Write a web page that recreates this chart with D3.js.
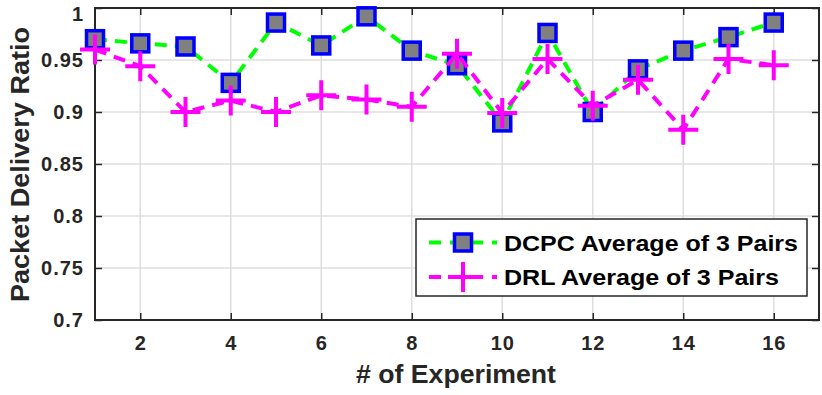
<!DOCTYPE html>
<html>
<head>
<meta charset="utf-8">
<script src="https://cdn.jsdelivr.net/npm/d3@7"></script>
<style>
  body { margin: 0; background: #fff; }
  svg { display: block; font-family: "Liberation Sans", Arial, sans-serif; }
</style>
</head>
<body>
<div id="chart"></div>
<script>
// data
const experiments = d3.range(1, 17);
const dcpc = [0.970, 0.966, 0.963, 0.928, 0.986, 0.964, 0.992, 0.959, 0.945, 0.890, 0.976, 0.900, 0.941, 0.959, 0.972, 0.986];
const drl = [0.960, 0.944, 0.900, 0.911, 0.900, 0.916, 0.912, 0.905, 0.956, 0.899, 0.951, 0.906, 0.931, 0.883, 0.951, 0.945];
const xTicks = [2, 4, 6, 8, 10, 12, 14, 16];
const yTicks = [0.7, 0.75, 0.8, 0.85, 0.9, 0.95, 1];
const yTickLabels = ["0.7", "0.75", "0.8", "0.85", "0.9", "0.95", "1"];
const seriesNames = ["DCPC Average of 3 Pairs", "DRL Average of 3 Pairs"];

const W = 822, H = 395;
// plot box in pixels
const box = {left: 95, right: 819, top: 8, bottom: 320};
const axisColor = "#262626";

const svg = d3.select("#chart").append("svg")
    .attr("width", W)
    .attr("height", H);

const x = d3.scaleLinear().domain([1, 17]).range([box.left, box.right]);
const y = d3.scaleLinear().domain([0.7, 1]).range([box.bottom, box.top]);

// grid
const grid = svg.append("g");
grid.selectAll(".gx").data(xTicks).enter().append("line")
    .attr("x1", d => x(d)).attr("x2", d => x(d))
    .attr("y1", box.top).attr("y2", box.bottom)
    .attr("stroke", "#dedede").attr("stroke-width", 1.5);
grid.selectAll(".gy").data(yTicks).enter().append("line")
    .attr("x1", box.left).attr("x2", box.right)
    .attr("y1", d => y(d)).attr("y2", d => y(d))
    .attr("stroke", "#dedede").attr("stroke-width", 1.5);

// axes (ticks pointing inward, like matlab)
function styleAxis(g) {
    g.select(".domain").remove();
    g.selectAll(".tick line").attr("stroke", axisColor).attr("stroke-width", 1.5);
    g.selectAll("text")
        .attr("fill", axisColor)
        .style("font-size", "20px")
        .style("font-weight", "bold")
        .style("letter-spacing", "1px");
}

svg.append("g")
    .attr("transform", `translate(0,${box.bottom})`)
    .call(d3.axisBottom(x).tickValues(xTicks).tickSize(-7).tickPadding(16))
    .call(styleAxis);
svg.append("g")
    .attr("transform", `translate(0,${box.top})`)
    .call(d3.axisTop(x).tickValues(xTicks).tickSize(-7).tickFormat(""))
    .call(styleAxis);
const yAxis = svg.append("g")
    .attr("transform", `translate(${box.left},0)`)
    .call(d3.axisLeft(y).tickValues(yTicks).tickSize(-7).tickPadding(11)
        .tickFormat((d, i) => yTickLabels[i]))
    .call(styleAxis);
// keep the top label inside the figure, matlab nudges it down a bit
yAxis.selectAll(".tick text").filter(d => d === 1).attr("dy", "0.62em");
svg.append("g")
    .attr("transform", `translate(${box.right},0)`)
    .call(d3.axisRight(y).tickValues(yTicks).tickSize(-7).tickFormat(""))
    .call(styleAxis);

// box
svg.append("rect")
    .attr("x", box.left).attr("y", box.top)
    .attr("width", box.right - box.left).attr("height", box.bottom - box.top)
    .attr("fill", "none").attr("stroke", axisColor).attr("stroke-width", 2);

// axis labels
svg.append("text")
    .attr("x", (box.left + box.right) / 2 - 1).attr("y", 383)
    .attr("text-anchor", "middle")
    .attr("textLength", 200).attr("lengthAdjust", "spacingAndGlyphs")
    .attr("fill", axisColor)
    .style("font-size", "26px").style("font-weight", "bold")
    .text("# of Experiment");
svg.append("text")
    .attr("transform", `translate(29,${(27 + 302) / 2}) rotate(-90)`)
    .attr("text-anchor", "middle")
    .attr("textLength", 275).attr("lengthAdjust", "spacingAndGlyphs")
    .attr("fill", axisColor)
    .style("font-size", "25px").style("font-weight", "bold")
    .text("Packet Delivery Ratio");

const line = d3.line()
    .x((d, i) => x(experiments[i]))
    .y(d => y(d));

function squareMarker(g, cx, cy) {
    g.append("rect")
        .attr("x", cx - 8.5).attr("y", cy - 8.5)
        .attr("width", 17).attr("height", 17)
        .attr("fill", "#808080")
        .attr("stroke", "#0000ff").attr("stroke-width", 3.5);
}
function plusMarker(g, cx, cy) {
    g.append("path")
        .attr("d", `M${cx - 15},${cy}H${cx + 15}M${cx},${cy - 15}V${cy + 15}`)
        .attr("stroke", "#ff00ff").attr("stroke-width", 4).attr("fill", "none");
}

// DCPC series
svg.append("path")
    .datum(dcpc)
    .attr("d", line)
    .attr("fill", "none")
    .attr("stroke", "#00ff00").attr("stroke-width", 4)
    .attr("stroke-dasharray", "12,8");
const dcpcMarks = svg.append("g");
dcpc.forEach((v, i) => squareMarker(dcpcMarks, x(experiments[i]), y(v)));

// DRL series
svg.append("path")
    .datum(drl)
    .attr("d", line)
    .attr("fill", "none")
    .attr("stroke", "#ff00ff").attr("stroke-width", 4)
    .attr("stroke-dasharray", "12,8");
const drlMarks = svg.append("g");
drl.forEach((v, i) => plusMarker(drlMarks, x(experiments[i]), y(v)));

// legend
const legend = svg.append("g");
legend.append("rect")
    .attr("x", 416).attr("y", 219)
    .attr("width", 391).attr("height", 77)
    .attr("fill", "#fff").attr("stroke", axisColor).attr("stroke-width", 1.5);

const legendRows = [
    {name: seriesNames[0], color: "#00ff00", y: 242.5, marker: squareMarker, len: 294},
    {name: seriesNames[1], color: "#ff00ff", y: 277, marker: plusMarker, len: 275}
];
legendRows.forEach(r => {
    legend.append("line")
        .attr("x1", 429).attr("x2", 497)
        .attr("y1", r.y).attr("y2", r.y)
        .attr("stroke", r.color).attr("stroke-width", 4)
        .attr("stroke-dasharray", "12,9");
    r.marker(legend, 463, r.y);
    legend.append("text")
        .attr("x", 504).attr("y", r.y + 8)
        .attr("textLength", r.len).attr("lengthAdjust", "spacingAndGlyphs")
        .attr("fill", "#000")
        .style("font-size", "22px").style("font-weight", "bold")
        .text(r.name);
});
</script>
</body>
</html>
